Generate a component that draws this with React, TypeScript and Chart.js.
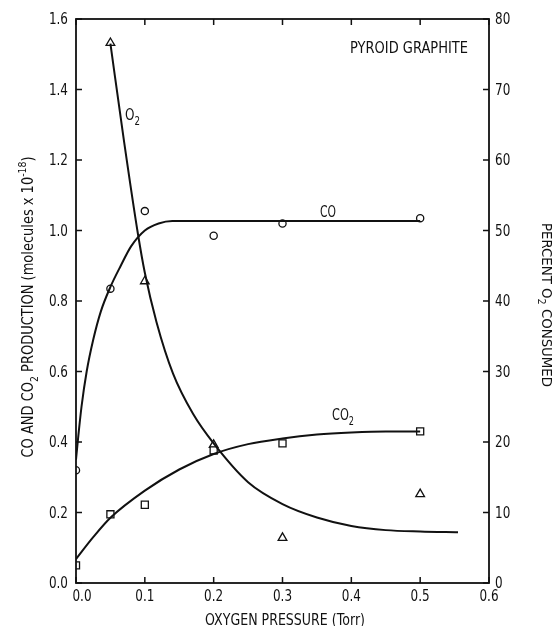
import React, { useEffect, useRef } from "react";
import { Chart, registerables } from "chart.js";

Chart.register(...registerables);

// ---- data ----
const coX = [0.0, 0.05, 0.1, 0.2, 0.3, 0.5];
const coY = [0.32, 0.835, 1.055, 0.985, 1.02, 1.035];

const co2X = [0.0, 0.05, 0.1, 0.2, 0.3, 0.5];
const co2Y = [0.05, 0.195, 0.222, 0.376, 0.396, 0.43];

const o2X = [0.05, 0.1, 0.2, 0.3, 0.5];
const o2Y = [76.6, 42.8, 19.6, 6.4, 12.6];

// hand-drawn fitted curves
const coCurveX = [0, 0.003, 0.008, 0.0155, 0.025, 0.036, 0.05, 0.065, 0.08, 0.1, 0.12, 0.14, 0.3, 0.5];
const coCurveY = [0.35, 0.41, 0.5, 0.6, 0.69, 0.77, 0.84, 0.9, 0.955, 1.0, 1.02, 1.027, 1.027, 1.027];

const co2CurveX = [0, 0.025, 0.05, 0.1, 0.15, 0.2, 0.25, 0.3, 0.35, 0.4, 0.45, 0.5];
const co2CurveY = [0.068, 0.13, 0.185, 0.262, 0.322, 0.366, 0.394, 0.41, 0.421, 0.427, 0.43, 0.43];

const o2CurveX = [0.05, 0.07, 0.09, 0.1, 0.117, 0.141, 0.17, 0.2, 0.25, 0.3, 0.35, 0.4, 0.45, 0.5, 0.555];
const o2CurveY = [76.5, 62.5, 49.5, 44.0, 37.0, 29.7, 24.0, 19.8, 14.3, 11.2, 9.3, 8.1, 7.5, 7.3, 7.2];

const xTicks = [0, 0.1, 0.2, 0.3, 0.4, 0.5, 0.6];
const yTicks = [0, 0.2, 0.4, 0.6, 0.8, 1.0, 1.2, 1.4, 1.6];
const y2Ticks = [0, 10, 20, 30, 40, 50, 60, 70, 80];

const FONT = "'DejaVu Sans', sans-serif";

type Seg = { t: string; k?: "sub" | "sup" };

function drawRich(
  ctx: CanvasRenderingContext2D,
  segs: Seg[],
  x: number,
  y: number,
  o: { size: number; align: "left" | "center" | "right"; width?: number; sx?: number; rot?: number }
) {
  const small = o.size * 0.72;
  let w = 0;
  for (const s of segs) {
    ctx.font = `${s.k ? small : o.size}px ${FONT}`;
    w += ctx.measureText(s.t).width;
  }
  const sx = o.width ? o.width / w : o.sx ?? 1;
  ctx.save();
  ctx.translate(x, y);
  if (o.rot) ctx.rotate(o.rot);
  ctx.scale(sx, 1);
  ctx.fillStyle = "#111";
  ctx.textBaseline = "alphabetic";
  ctx.textAlign = "left";
  let cx = o.align === "left" ? 0 : o.align === "center" ? -w / 2 : -w;
  for (const s of segs) {
    ctx.font = `${s.k ? small : o.size}px ${FONT}`;
    const dy = s.k === "sub" ? o.size * 0.32 : s.k === "sup" ? -o.size * 0.5 : 0;
    ctx.fillText(s.t, cx, dy);
    cx += ctx.measureText(s.t).width;
  }
  ctx.restore();
}

const framePlugin = {
  id: "frame",
  afterDraw(chart: any) {
    const ctx: CanvasRenderingContext2D = chart.ctx;
    const { left, right, top, bottom } = chart.chartArea;
    const xs = chart.scales.x;
    const ys = chart.scales.y;
    const y2s = chart.scales.y2;
    ctx.save();
    ctx.strokeStyle = "#111";
    ctx.lineWidth = 1.8;
    ctx.strokeRect(left, top, right - left, bottom - top);
    ctx.lineWidth = 1.5;
    const tl = 6;
    ctx.beginPath();
    xTicks.forEach((v) => {
      const px = xs.getPixelForValue(v);
      ctx.moveTo(px, bottom);
      ctx.lineTo(px, bottom - tl);
      ctx.moveTo(px, top);
      ctx.lineTo(px, top + tl);
    });
    yTicks.forEach((v) => {
      const py = ys.getPixelForValue(v);
      ctx.moveTo(left, py);
      ctx.lineTo(left + tl, py);
    });
    y2Ticks.forEach((v) => {
      const py = y2s.getPixelForValue(v);
      ctx.moveTo(right, py);
      ctx.lineTo(right - tl, py);
    });
    ctx.stroke();

    const ts = 15;
    const tsx = 0.8;
    const cap = ts * 0.73;
    xTicks.forEach((v, i) => {
      const px = xs.getPixelForValue(v) + (i === 0 ? 6 : 0);
      drawRich(ctx, [{ t: v.toFixed(1) }], px, bottom + 7 + cap, { size: ts, align: "center", sx: tsx });
    });
    yTicks.forEach((v) => {
      const py = ys.getPixelForValue(v);
      drawRich(ctx, [{ t: v.toFixed(1) }], left - 8, py + cap / 2, { size: ts, align: "right", sx: tsx });
    });
    y2Ticks.forEach((v) => {
      const py = y2s.getPixelForValue(v);
      drawRich(ctx, [{ t: String(v) }], right + 6, py + cap / 2, { size: ts, align: "left", sx: tsx });
    });

    // axis titles
    drawRich(ctx, [{ t: "OXYGEN PRESSURE (Torr)" }], 285, 625, { size: 15, align: "center", width: 160 });
    drawRich(
      ctx,
      [
        { t: "CO AND CO" },
        { t: "2", k: "sub" },
        { t: " PRODUCTION (molecules x 10" },
        { t: "-18", k: "sup" },
        { t: ")" },
      ],
      33,
      307,
      { size: 15, align: "center", width: 301, rot: -Math.PI / 2 }
    );
    drawRich(
      ctx,
      [{ t: "PERCENT O" }, { t: "2", k: "sub" }, { t: " CONSUMED" }],
      542,
      305,
      { size: 14, align: "center", width: 164, rot: Math.PI / 2 }
    );

    // annotations
    drawRich(ctx, [{ t: "PYROID GRAPHITE" }], 468, 53, { size: 15, align: "right", width: 118 });
    drawRich(ctx, [{ t: "O" }, { t: "2", k: "sub" }], 125, 120, { size: 16, align: "left", width: 15 });
    drawRich(ctx, [{ t: "CO" }], 320, 217, { size: 16, align: "left", width: 16 });
    drawRich(ctx, [{ t: "CO" }, { t: "2", k: "sub" }], 332, 420, { size: 16, align: "left", width: 22 });
    ctx.restore();
  },
};

const pts = (xs: number[], ys: number[]) => xs.map((x, i) => ({ x, y: ys[i] }));

export default function App() {
  const ref = useRef<HTMLCanvasElement | null>(null);
  useEffect(() => {
    if (!ref.current) return;
    const curve = (data: any, yAxisID: string) => ({
      type: "line" as const,
      data,
      yAxisID,
      borderColor: "#111",
      borderWidth: 2,
      pointRadius: 0,
      fill: false,
      cubicInterpolationMode: "monotone" as const,
    });
    const marks = (data: any, yAxisID: string, style: string, r: number) => ({
      type: "scatter" as const,
      data,
      yAxisID,
      pointStyle: style,
      pointRadius: r,
      pointBackgroundColor: "#fff",
      pointBorderColor: "#111",
      pointBorderWidth: 1.3,
      showLine: false,
    });
    const chart = new Chart(ref.current, {
      type: "scatter",
      data: {
        datasets: [
          curve(pts(coCurveX, coCurveY), "y"),
          curve(pts(co2CurveX, co2CurveY), "y"),
          curve(pts(o2CurveX, o2CurveY), "y2"),
          marks(pts(coX, coY), "y", "circle", 3.6),
          marks(pts(co2X, co2Y), "y", "rect", 5),
          marks(pts(o2X, o2Y), "y2", "triangle", 5),
        ] as any,
      },
      options: {
        responsive: false,
        animation: false,
        layout: { padding: { top: 19, left: 0, right: 0, bottom: 0 } },
        plugins: { legend: { display: false }, tooltip: { enabled: false } },
        scales: {
          x: {
            type: "linear",
            min: 0,
            max: 0.6,
            grid: { display: false },
            border: { display: false },
            ticks: { display: false },
            afterFit: (s: any) => {
              s.height = 43;
            },
          },
          y: {
            type: "linear",
            position: "left",
            min: 0,
            max: 1.6,
            grid: { display: false },
            border: { display: false },
            ticks: { display: false },
            afterFit: (s: any) => {
              s.width = 76;
            },
          },
          y2: {
            type: "linear",
            position: "right",
            min: 0,
            max: 80,
            grid: { display: false },
            border: { display: false },
            ticks: { display: false },
            afterFit: (s: any) => {
              s.width = 66;
            },
          },
        },
      } as any,
      plugins: [framePlugin],
    });
    return () => chart.destroy();
  }, []);
  return (
    <div style={{ position: "absolute", left: 0, top: 0, width: 555, height: 626, background: "#fff" }}>
      <canvas ref={ref} width={555} height={626} style={{ width: 555, height: 626 }} />
    </div>
  );
}
